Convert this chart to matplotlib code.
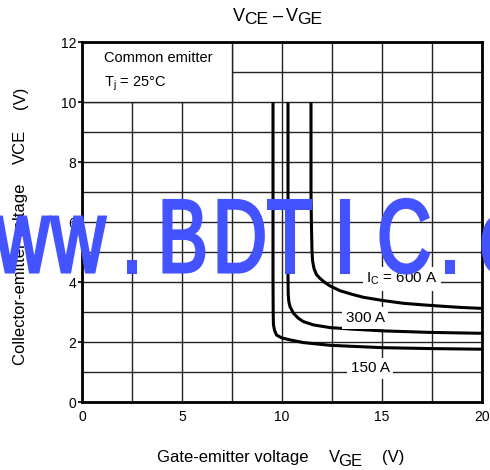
import matplotlib
matplotlib.use("Agg")
import matplotlib.pyplot as plt
from matplotlib.patches import Rectangle, PathPatch
from matplotlib.textpath import TextPath
from matplotlib.font_manager import FontProperties
from matplotlib.transforms import Affine2D
from matplotlib.ticker import MultipleLocator

plt.rcParams["font.family"] = ["Liberation Sans", "DejaVu Sans"]
plt.rcParams["mathtext.fontset"] = "custom"
plt.rcParams["mathtext.rm"] = "Liberation Sans"
plt.rcParams["mathtext.it"] = "Liberation Sans"

W, H = 490, 470

# --- data (VGE in V, VCE in V) -----------------------------------------------
vge_150 = [9.55, 9.55, 9.55, 9.56, 9.57, 9.62, 9.73, 9.98, 10.4, 11.07, 12.4, 13.7, 15.07, 17.5, 20.0]
vce_150 = [10.0, 6.0, 4.0, 3.0, 2.6, 2.4, 2.23, 2.14, 2.07, 1.98, 1.89, 1.85, 1.81, 1.78, 1.76]

vge_300 = [10.3, 10.3, 10.3, 10.31, 10.34, 10.4, 10.57, 10.82, 11.07, 11.57, 12.4, 13.73, 15.07, 17.4, 20.0]
vce_300 = [10.0, 6.0, 4.2, 3.6, 3.35, 3.18, 2.96, 2.79, 2.68, 2.57, 2.48, 2.42, 2.37, 2.32, 2.29]

vge_600 = [11.45, 11.45, 11.47, 11.5, 11.53, 11.6, 11.72, 11.9, 12.15, 12.4, 12.9, 13.5,
           14.07, 15.07, 16.07, 17.0, 18.07, 19.0, 20.0]
vce_600 = [10.0, 7.0, 6.0, 5.0, 4.7, 4.45, 4.25, 4.12, 3.98, 3.87, 3.71, 3.59,
           3.49, 3.38, 3.29, 3.24, 3.19, 3.15, 3.12]

curve_labels = [r"I$_{\mathrm{C}}$ = 600 A", "300 A", "150 A"]
label_pos = [(16.0, 4.1), (14.15, 2.8), (14.4, 1.12)]

x_ticks = [0, 5, 10, 15, 20]
y_ticks = [0, 2, 4, 6, 8, 10, 12]

fig = plt.figure(figsize=(W / 100, H / 100), dpi=100)
ax = fig.add_axes([82 / W, 68 / H, 400 / W, 360 / H])
renderer = fig.canvas.get_renderer()


def rich_line(pieces, x0, y0, rotation=0):
    """pieces: (text, fontsize, gap before in px, drop in px); x0, y0 = start of
    baseline in pixels, measured from top-left."""
    pos = 0.0
    for s, fs, gap, drop in pieces:
        pos += gap
        if rotation == 0:
            X, Y = x0 + pos, H - (y0 + drop)
        else:
            X, Y = x0 + drop, H - (y0 - pos)
        t = fig.text(X / W, Y / H, s, fontsize=fs, rotation=rotation,
                     ha="left", va="baseline", rotation_mode="anchor")
        bb = t.get_window_extent(renderer)
        pos += bb.width if rotation == 0 else bb.height


ax.set_xlim(0, 20)
ax.set_ylim(0, 12)
ax.set_xticks(x_ticks)
ax.set_yticks(y_ticks)
ax.xaxis.set_minor_locator(MultipleLocator(2.5))
ax.yaxis.set_minor_locator(MultipleLocator(1))
ax.grid(which="both", color="#222222", linewidth=1.0, zorder=1)
ax.set_axisbelow(True)
ax.tick_params(which="minor", length=0)
ax.tick_params(axis="y", which="major", length=3, width=1.2, labelsize=10, pad=1)
ax.tick_params(axis="x", which="major", length=0, labelsize=10, pad=6)
for sp in ax.spines.values():
    sp.set_linewidth(2.0)
    sp.set_zorder(6)

# condition box, upper left
ax.add_patch(Rectangle((0, 10), 7.5, 2, facecolor="white", edgecolor="#222222",
                       linewidth=1.0, zorder=2))
ax.text(1.1, 11.45, "Common emitter", fontsize=10.5, va="center", zorder=3)
ax.text(1.1, 10.6, r"T$_{\mathrm{j}}$ = 25°C", fontsize=10.5, va="center", zorder=3)

for xs, ys in [(vge_150, vce_150), (vge_300, vce_300), (vge_600, vce_600)]:
    ax.plot(xs, ys, color="black", linewidth=2.2, zorder=4, solid_capstyle="butt",
            solid_joinstyle="round")

for lab, (lx, ly) in zip(curve_labels, label_pos):
    ax.text(lx, ly, lab, fontsize=11, ha="center", va="center", zorder=5,
            bbox=dict(facecolor="white", edgecolor="none", pad=2.5))

# title and axis labels
rich_line([("V", 13, 0, 0), ("CE", 12.5, -0.5, 2.5), ("–", 13, 4, 0),
           ("V", 13, 3, 0), ("GE", 12.5, -0.5, 2.5)], 233, 21)
rich_line([("Gate-emitter voltage", 12, 0, 0), ("V", 12, 20, 0),
           ("GE", 12, -1.5, 4), ("(V)", 12, 20, 0)], 157, 462)
rich_line([("Collector-emitter voltage", 12, 0, 0), ("VCE", 12, 20, 0),
           ("(V)", 12, 20, 0)], 25, 365, rotation=90)

# watermark
wm_chars = ["w", "w", ".", "B", "D", "T", "I", "C", ".", "c"]
wm_left = [-6, 50, 127, 163, 218, 267, 340, 380, 445, 482]
wm_prop = FontProperties(family="Liberation Sans")
for ch, x0 in zip(wm_chars, wm_left):
    tp = TextPath((0, 0), ch, size=104, prop=wm_prop)
    ext = tp.get_extents()
    tr = (Affine2D().translate(-ext.x0, 0).scale(0.72, 1)
          .translate(x0 + 1, H - 272).scale(1 / W, 1 / H) + fig.transFigure)
    fig.add_artist(PathPatch(tp, transform=tr, facecolor="#4353ff",
                             edgecolor="#4353ff", linewidth=2.2, zorder=10))

fig.savefig("out.png", dpi=100)
